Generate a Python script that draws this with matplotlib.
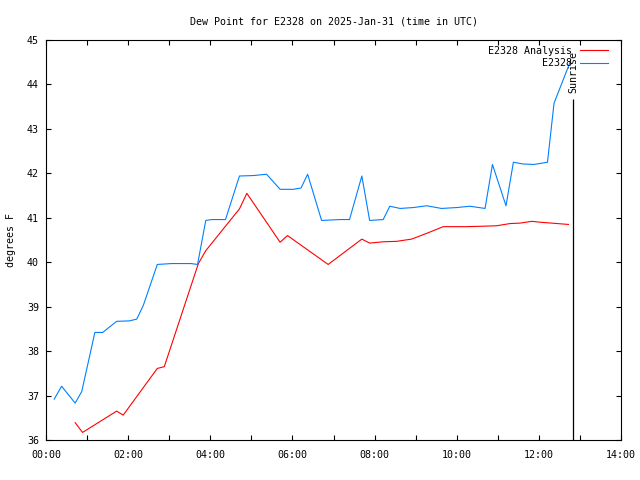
import matplotlib
matplotlib.use("Agg")
import matplotlib.pyplot as plt

# E2328 observations (hours UTC, dew point F)
obs_t = [0.20, 0.38, 0.71, 0.87, 1.19, 1.38, 1.72, 2.03, 2.21, 2.37, 2.71, 3.06, 3.53, 3.69,
         3.89, 4.03, 4.37, 4.71, 5.05, 5.37, 5.70, 6.02, 6.21, 6.37, 6.71, 7.16, 7.39, 7.69,
         7.88, 8.21, 8.37, 8.62, 8.94, 9.27, 9.63, 10.00, 10.32, 10.69, 10.87, 11.20, 11.38,
         11.62, 11.88, 12.21, 12.37, 12.76]
obs_v = [36.92, 37.21, 36.83, 37.09, 38.42, 38.42, 38.67, 38.68, 38.72, 39.03, 39.95, 39.97,
         39.97, 39.95, 40.94, 40.96, 40.96, 41.94, 41.95, 41.98, 41.64, 41.64, 41.67, 41.98,
         40.94, 40.96, 40.96, 41.94, 40.94, 40.96, 41.26, 41.21, 41.23, 41.27, 41.21, 41.23,
         41.26, 41.21, 42.20, 41.27, 42.25, 42.21, 42.20, 42.25, 43.58, 44.50]

# E2328 analysis
ana_t = [0.71, 0.89, 1.72, 1.88, 2.71, 2.88, 3.71, 3.89, 4.71, 4.89, 5.70, 5.88, 6.87, 7.69,
         7.88, 8.21, 8.54, 8.90, 9.27, 9.67, 10.26, 10.97, 11.30, 11.54, 11.83, 12.03, 12.31,
         12.72]
ana_v = [36.39, 36.17, 36.65, 36.56, 37.61, 37.65, 39.97, 40.26, 41.20, 41.55, 40.45, 40.60,
         39.95, 40.52, 40.43, 40.46, 40.47, 40.52, 40.65, 40.80, 40.80, 40.82, 40.87, 40.88,
         40.92, 40.90, 40.88, 40.85]

sunrise_t = 12.84
x_ticks = [0, 2, 4, 6, 8, 10, 12, 14]
x_labels = ["00:00", "02:00", "04:00", "06:00", "08:00", "10:00", "12:00", "14:00"]
y_ticks = [36, 37, 38, 39, 40, 41, 42, 43, 44, 45]

FONT = "DejaVu Sans Mono"
FS = 7.2
plt.rcParams["font.family"] = FONT
plt.rcParams["font.size"] = FS

fig = plt.figure(figsize=(6.4, 4.8), dpi=100)
ax = fig.add_axes([46/640, 40/480, 575/640, 400/480])

ax.plot(ana_t, ana_v, color="#ff0000", lw=0.8, label="E2328 Analysis")
ax.plot(obs_t, obs_v, color="#0080ff", lw=0.8, label="E2328")

ax.vlines(sunrise_t, 36, 43.67, color="black", lw=0.9)
ax.text(sunrise_t, 44.76, "Sunrise", rotation=90, ha="center", va="top", fontsize=FS)

ax.set_xlim(0, 14)
ax.set_ylim(36, 45)
ax.set_xticks(x_ticks)
ax.set_xticklabels(x_labels)
ax.set_xticks(range(0, 15), minor=True)
ax.set_yticks(y_ticks)
ax.tick_params(which="both", direction="in", length=3.6, width=0.8, top=True, right=True)
ax.tick_params(axis="x", which="major", pad=7)
ax.tick_params(axis="y", which="major", pad=5)
for s in ax.spines.values():
    s.set_linewidth(0.8)

ax.set_ylabel("degrees F", labelpad=8)
ax.set_title("Dew Point for E2328 on 2025-Jan-31 (time in UTC)", pad=11, fontsize=FS)

ax.legend(loc="upper right", frameon=False, markerfirst=False, handlelength=2.8,
          handletextpad=0.8, labelspacing=0.25, borderaxespad=0.0, borderpad=0.3,
          bbox_to_anchor=(1 - 10/575, 1.0 - 3/400), fontsize=FS)

fig.savefig("out.png", dpi=100)
